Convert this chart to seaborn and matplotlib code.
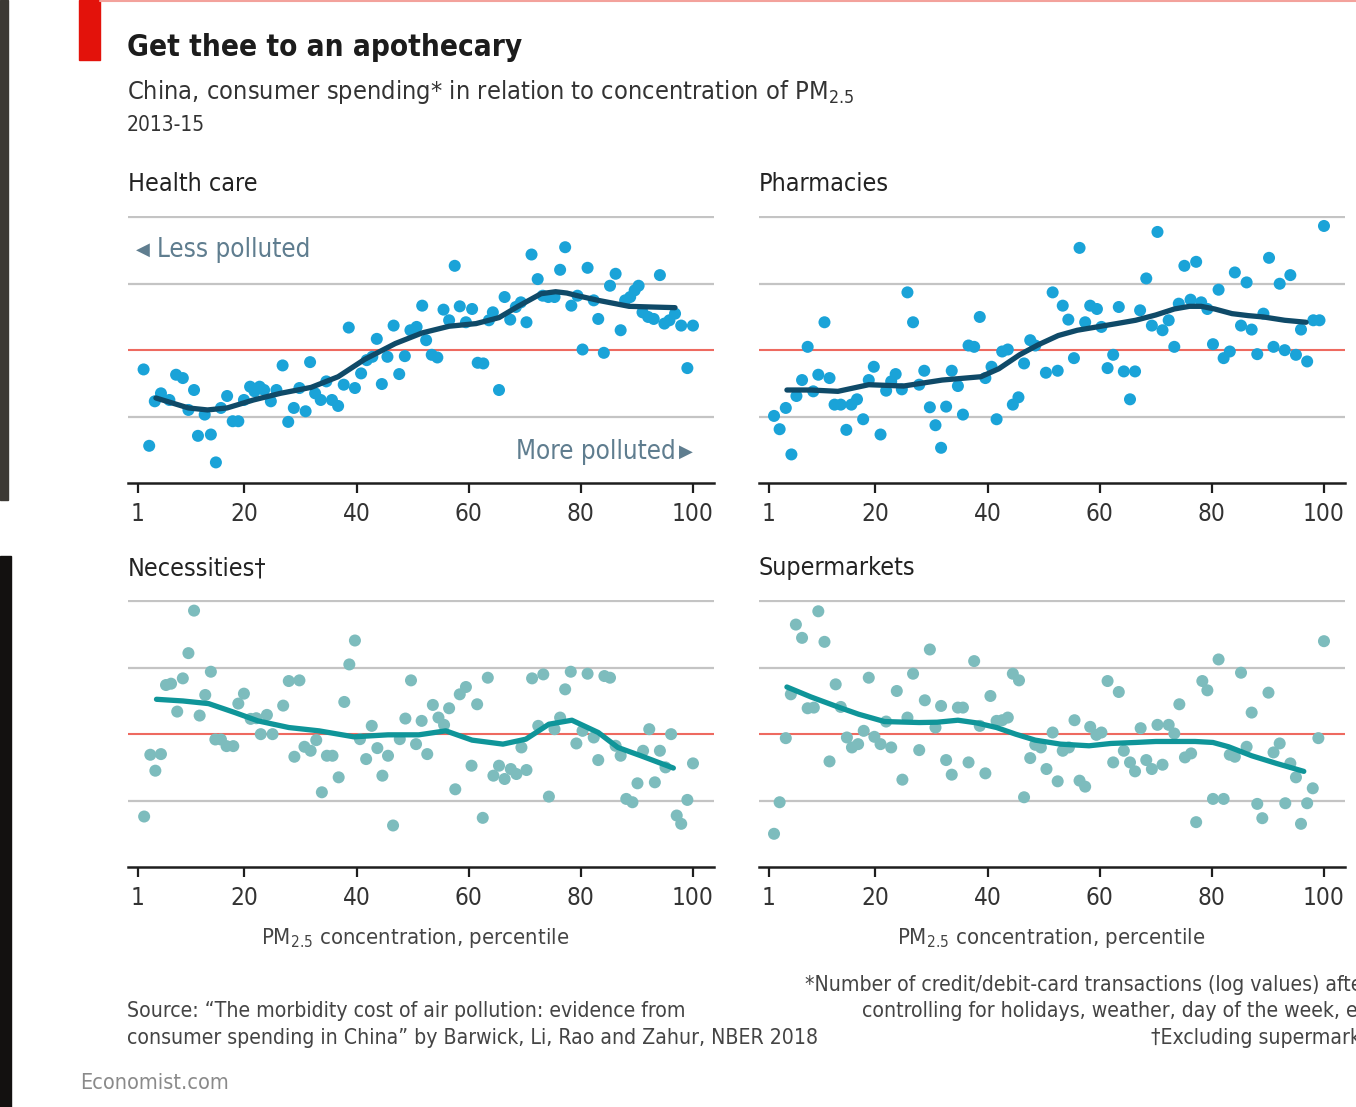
import numpy as np
import pandas as pd
import matplotlib
matplotlib.use("Agg")
import matplotlib.pyplot as plt
import seaborn as sns
from matplotlib.patches import Rectangle
from matplotlib.lines import Line2D

# Scatter values (percentile, relative spending)
hc_x = [2, 3, 4, 5.1, 6.6, 7.8, 9, 10, 11, 11.7, 12.9, 14, 14.9, 15.8, 16.9, 17.9, 18.9, 19.9, 21, 21.8,
        22.7, 23.5, 24.7, 25.7, 26.8, 27.8, 28.8, 29.8, 30.9, 31.7, 32.6, 33.6, 34.6, 35.6, 36.7, 37.7, 38.6,
        39.7, 40.8, 41.8, 42.8, 43.6, 44.5, 45.5, 46.6, 47.6, 48.6, 49.6, 50.7, 51.7, 52.4, 53.4, 54.4, 55.5,
        56.5, 57.5, 58.4, 59.5, 60.6, 61.6, 62.6, 63.6, 64.3, 65.4, 66.4, 67.4, 68.4, 69.3, 70.3, 71.2, 72.3,
        73.2, 74.2, 75.3, 76.3, 77.2, 78.3, 79.4, 80.3, 81.2, 82.3, 83.1, 84.1, 85.2, 86.2, 87.1, 87.9, 88.8,
        89.6, 90.3, 91, 92, 93, 94.1, 94.9, 95.8, 96.8, 97.9, 99, 100]
hc_y = [-0.29, -1.44, -0.77, -0.65, -0.75, -0.37, -0.42, -0.90, -0.60, -1.29, -0.97, -1.27, -1.69, -0.87,
        -0.69, -1.07, -1.07, -0.75, -0.55, -0.62, -0.55, -0.60, -0.77, -0.60, -0.23, -1.08, -0.87, -0.57,
        -0.92, -0.18, -0.65, -0.75, -0.47, -0.75, -0.84, -0.52, 0.34, -0.57, -0.35, -0.15, -0.10, 0.17,
        -0.51, -0.10, 0.37, -0.36, -0.09, 0.30, 0.35, 0.67, 0.15, -0.07, -0.11, 0.61, 0.45, 1.27, 0.66,
        0.42, 0.62, -0.19, -0.20, 0.45, 0.57, -0.60, 0.80, 0.46, 0.65, 0.72, 0.42, 1.44, 1.07, 0.82, 0.80,
        0.80, 1.21, 1.55, 0.67, 0.82, 0.01, 1.24, 0.75, 0.47, -0.04, 0.97, 1.15, 0.30, 0.75, 0.80, 0.90,
        0.97, 0.57, 0.50, 0.47, 1.13, 0.40, 0.45, 0.55, 0.37, -0.27, 0.37]
hc_fit_x = [4.2, 10, 13.4, 16.9, 21.6, 26.4, 31.9, 36.7, 41.4, 46.9, 51.7, 56.5, 61.3, 65.4, 68.8, 72.9,
            75.5, 77.5, 79.4, 83.1, 88.6, 92.5, 96.8]
hc_fit_y = [-0.72, -0.87, -0.90, -0.87, -0.75, -0.65, -0.56, -0.40, -0.14, 0.10, 0.26, 0.36, 0.40, 0.49,
            0.66, 0.85, 0.88, 0.86, 0.82, 0.75, 0.66, 0.65, 0.64]

ph_x = [1.9, 2.9, 4, 5, 5.9, 6.9, 7.9, 8.9, 9.8, 10.9, 11.8, 12.7, 13.8, 14.8, 15.7, 16.7, 17.8, 18.8, 19.7,
        20.9, 21.9, 22.8, 23.6, 24.7, 25.7, 26.7, 27.8, 28.7, 29.7, 30.7, 31.7, 32.6, 33.6, 34.7, 35.6, 36.6,
        37.6, 38.6, 39.6, 40.7, 41.6, 42.6, 43.6, 44.5, 45.5, 46.5, 47.6, 48.5, 50.4, 51.6, 52.5, 53.4, 54.4,
        55.4, 56.4, 57.4, 58.3, 59.5, 60.3, 61.4, 62.4, 63.4, 64.3, 65.4, 66.3, 67.2, 68.3, 69.3, 70.3, 71.2,
        72.3, 73.3, 74.1, 75.1, 76.2, 77.2, 78.1, 79.2, 80.2, 81.2, 82.1, 83.2, 84.1, 85.2, 86.2, 87.1, 88.1,
        89.2, 90.2, 91, 92.1, 93, 94, 95, 95.9, 97, 98.1, 99.2, 100]
ph_y = [-0.99, -1.19, -0.87, -1.57, -0.69, -0.45, 0.05, -0.62, -0.37, 0.42, -0.42, -0.82, -0.82, -1.20,
        -0.82, -0.74, -1.04, -0.45, -0.25, -1.27, -0.61, -0.47, -0.36, -0.59, 0.87, 0.42, -0.52, -0.31,
        -0.86, -1.13, -1.47, -0.85, -0.31, -0.54, -0.97, 0.07, 0.05, 0.50, -0.42, -0.25, -1.04, -0.02, 0.01,
        -0.82, -0.71, -0.20, 0.15, 0.07, -0.34, 0.87, -0.31, 0.67, 0.46, -0.12, 1.54, 0.42, 0.67, 0.62,
        0.35, -0.27, -0.07, 0.65, -0.32, -0.74, -0.32, 0.60, 1.08, 0.37, 1.78, 0.30, 0.45, 0.05, 0.70, 1.27,
        0.76, 1.33, 0.72, 0.62, 0.09, 0.91, -0.12, -0.02, 1.17, 0.37, 1.02, 0.31, -0.06, 0.55, 1.39, 0.05,
        1.00, 0.00, 1.13, -0.07, 0.31, -0.17, 0.45, 0.45, 1.87]
ph_fit_x = [4.2, 8.5, 13.3, 18.8, 25, 31.9, 38.8, 42, 45.7, 49, 52.6, 56, 59.5, 63, 66.4, 70, 73.3, 76,
            78.1, 80.5, 83.6, 86.5, 89.2, 93, 96.8]
ph_fit_y = [-0.60, -0.60, -0.62, -0.52, -0.54, -0.45, -0.40, -0.28, -0.07, 0.08, 0.22, 0.30, 0.35, 0.40,
            0.45, 0.53, 0.62, 0.66, 0.66, 0.62, 0.55, 0.52, 0.50, 0.45, 0.42]

ne_x = [2.1, 3.2, 4.1, 5.1, 6, 6.9, 8, 9, 10, 11, 12, 13, 14, 14.8, 15.8, 16.8, 18, 18.9, 19.9, 21.1, 22.1,
        22.9, 24, 25, 26.9, 27.9, 28.9, 29.8, 30.7, 31.8, 32.8, 33.8, 34.7, 35.7, 36.8, 37.8, 38.7, 39.7,
        40.6, 41.7, 42.7, 43.7, 44.6, 45.6, 46.5, 47.7, 48.7, 49.7, 50.6, 51.6, 52.6, 53.6, 54.6, 55.6, 56.5,
        57.6, 58.4, 59.5, 60.5, 61.5, 62.5, 63.4, 64.4, 65.4, 66.4, 67.5, 68.5, 69.4, 70.3, 71.3, 72.4, 73.3,
        74.3, 75.3, 76.3, 77.2, 78.2, 79.2, 80.3, 81.2, 82.3, 83.1, 84.2, 85.2, 86.2, 87.1, 88.1, 89.2, 90.1,
        91.1, 92.2, 93.2, 94.1, 95.1, 96.1, 97.1, 97.9, 99, 100]
ne_y = [-1.24, -0.31, -0.55, -0.30, 0.74, 0.76, 0.34, 0.84, 1.22, 1.86, 0.28, 0.59, 0.94, -0.08, -0.08,
        -0.18, -0.18, 0.46, 0.61, 0.23, 0.24, 0.00, 0.29, 0.00, 0.43, 0.80, -0.34, 0.81, -0.19, -0.25, -0.09,
        -0.875, -0.325, -0.325, -0.65, 0.485, 1.05, 1.41, -0.075, -0.375, 0.125, -0.21, -0.625, -0.325,
        -1.375, -0.075, 0.235, 0.81, -0.15, 0.20, -0.30, 0.44, 0.25, 0.14, 0.39, -0.83, 0.60, 0.71, -0.475,
        0.45, -1.26, 0.85, -0.625, -0.475, -0.675, -0.525, -0.60, -0.20, -0.54, 0.84, 0.125, 0.90, -0.94,
        0.075, 0.25, 0.675, 0.94, -0.14, 0.05, 0.91, -0.05, -0.39, 0.875, 0.85, -0.175, -0.325, -0.975,
        -1.025, -0.74, -0.25, 0.075, -0.725, -0.25, -0.50, 0.00, -1.225, -1.35, -0.99, -0.44]
ne_fit_x = [4.3, 9, 13.6, 18.3, 22.4, 27.9, 33.3, 39.5, 45.6, 51.1, 55.9, 60.6, 66.1, 70.2, 74.3, 78.4,
            83.1, 86.6, 90.7, 96.5]
ne_fit_y = [0.525, 0.50, 0.46, 0.325, 0.20, 0.10, 0.05, -0.04, -0.01, -0.01, 0.05, -0.09, -0.15, -0.075,
            0.15, 0.21, 0.025, -0.20, -0.325, -0.51]

su_x = [1.9, 2.9, 4, 4.9, 5.8, 6.9, 7.9, 9, 9.8, 10.9, 11.8, 12.9, 13.8, 14.9, 15.8, 16.9, 17.9, 18.8,
        19.8, 20.9, 21.9, 22.8, 23.8, 24.8, 25.7, 26.7, 27.8, 28.8, 29.7, 30.7, 31.7, 32.6, 33.6, 34.7, 35.6,
        36.6, 37.6, 38.6, 39.6, 40.5, 41.6, 42.6, 43.6, 44.5, 45.6, 46.5, 47.6, 48.5, 49.5, 50.5, 51.6, 52.5,
        53.4, 54.5, 55.5, 56.4, 57.4, 58.3, 59.4, 60.3, 61.4, 62.4, 63.4, 64.3, 65.4, 66.3, 67.3, 68.3, 69.3,
        70.3, 71.2, 72.3, 73.3, 74.2, 75.2, 76.3, 77.2, 78.3, 79.2, 80.2, 81.2, 82.1, 83.2, 84.1, 85.2, 86.2,
        87.1, 88.1, 89, 90.1, 91, 92.1, 93.1, 94, 95, 95.9, 97, 98, 99, 100]
su_y = [-1.50, -1.025, -0.06, 0.60, 1.65, 1.45, 0.39, 0.40, 1.85, 1.39, -0.41, 0.75, 0.41, -0.05, -0.20,
        -0.15, 0.05, 0.85, -0.04, -0.15, 0.19, -0.20, 0.65, -0.685, 0.25, 0.91, -0.24, 0.51, 1.275, 0.10,
        0.425, -0.39, -0.61, 0.40, 0.40, -0.425, 1.10, 0.125, -0.59, 0.575, 0.20, 0.21, 0.25, 0.91, 0.81,
        -0.95, -0.36, -0.16, -0.20, -0.525, 0.025, -0.71, -0.25, -0.20, 0.21, -0.70, -0.79, 0.11, -0.01,
        0.025, 0.80, -0.425, 0.635, -0.25, -0.425, -0.56, 0.09, -0.39, -0.525, 0.14, -0.46, 0.14, 0.01,
        0.45, -0.35, -0.29, -1.325, 0.80, 0.66, -0.975, 1.125, -0.975, -0.31, -0.34, 0.925, -0.19, 0.325,
        -1.05, -1.265, 0.625, -0.275, -0.14, -1.04, -0.44, -0.65, -1.35, -1.04, -0.815, -0.06, 1.40]
su_fit_x = [4.2, 8.5, 13.3, 17, 21.6, 27.8, 31, 34.7, 38, 41.6, 45, 48.5, 53, 58.1, 62, 66.4, 70, 73.3,
            77, 80.2, 83, 87.1, 91.5, 96.4]
su_fit_y = [0.71, 0.56, 0.41, 0.30, 0.19, 0.175, 0.18, 0.21, 0.17, 0.10, 0.00, -0.09, -0.15, -0.175, -0.14,
            -0.125, -0.11, -0.11, -0.11, -0.125, -0.19, -0.325, -0.44, -0.56]

panels = [
    ("Health care", hc_x, hc_y, hc_fit_x, hc_fit_y, "#1aa3d8", "#0f4a68", 128, 216),
    ("Pharmacies", ph_x, ph_y, ph_fit_x, ph_fit_y, "#1aa3d8", "#0f4a68", 759, 216),
    ("Necessities\u2020", ne_x, ne_y, ne_fit_x, ne_fit_y, "#7dbcbd", "#0f9599", 128, 600),
    ("Supermarkets", su_x, su_y, su_fit_x, su_fit_y, "#7dbcbd", "#0f9599", 759, 600),
]
xticks = [1, 20, 40, 60, 80, 100]

sns.set_style("white")
plt.rcParams["font.family"] = ["DejaVu Sans"]
plt.rcParams["font.stretch"] = "condensed"

W, H = 1356, 1107
fig = plt.figure(figsize=(W / 100, H / 100), dpi=100)
fig.patch.set_facecolor("white")


def fx(x):
    return x / W


def fy(y):
    return 1 - y / H


# frame decorations
fig.add_artist(Rectangle((fx(79), fy(60)), fx(21), 60 / H, color="#e3120b", transform=fig.transFigure))
fig.add_artist(Line2D([fx(100), 1], [fy(1), fy(1)], color="#f3a29c", lw=1.5, transform=fig.transFigure))
fig.add_artist(Rectangle((0, fy(500)), fx(8), 500 / H, color="#3c3934", transform=fig.transFigure))
fig.add_artist(Rectangle((0, 0), fx(11), fy(556), color="#131110", transform=fig.transFigure))

fig.text(fx(127), fy(47), "Get thee to an apothecary", fontsize=21.3, fontweight="bold",
         color="#1c1c1c", va="center")
fig.text(fx(127), fy(92), r"China, consumer spending* in relation to concentration of PM$_{\mathregular{2.5}}$",
         fontsize=18.2, color="#333333", va="center")
fig.text(fx(127), fy(125), "2013-15", fontsize=15, color="#333333", va="center")

for title, xs, ys, fit_x, fit_y, dot_col, line_col, left, top in panels:
    ax = fig.add_axes([fx(left), fy(top + 267), 586 / W, 267 / H])
    df = pd.DataFrame({"pct": xs, "val": ys})
    fit = pd.DataFrame({"pct": fit_x, "val": fit_y})
    for g in [2, 1, -1]:
        ax.axhline(g, color="#c4c4c4", lw=1.6, zorder=0)
    ax.axhline(0, color="#ee6a60", lw=1.5, zorder=0)
    sns.scatterplot(data=df, x="pct", y="val", color=dot_col, s=75, edgecolor="none", ax=ax, zorder=2)
    sns.lineplot(data=fit, x="pct", y="val", color=line_col, lw=3.8, sort=False, estimator=None,
                 ax=ax, zorder=3, solid_capstyle="round", solid_joinstyle="round")
    ax.set_xlim(-0.78, 103.75)
    ax.set_ylim(-2, 2.02)
    ax.set_xticks(xticks)
    ax.set_xticklabels([str(t) for t in xticks])
    ax.set_yticks([])
    ax.set_xlabel("")
    ax.set_ylabel("")
    for s in ["top", "left", "right"]:
        ax.spines[s].set_visible(False)
    ax.spines["bottom"].set_color("#1e1e1e")
    ax.spines["bottom"].set_linewidth(1.8)
    ax.tick_params(axis="x", direction="out", length=7, width=1.6, color="#1e1e1e",
                   labelsize=17.5, labelcolor="#333333", pad=7, bottom=True)
    ax.patch.set_alpha(0)
    fig.text(fx(left), fy(top - 32), title, fontsize=18, color="#222222", va="center")

# direction labels
fig.text(fx(136), fy(250), "\u25c0", fontsize=13, color="#5f7d8f", va="center",
         family=["DejaVu Sans"], stretch="normal")
fig.text(fx(157), fy(250), "Less polluted", fontsize=18.6, color="#5f7d8f", va="center")
fig.text(fx(676), fy(452), "More polluted", fontsize=18.6, color="#5f7d8f", va="center", ha="right")
fig.text(fx(679), fy(452), "\u25b6", fontsize=13, color="#5f7d8f", va="center",
         family=["DejaVu Sans"], stretch="normal")

xlabel = r"PM$_{\mathregular{2.5}}$ concentration, percentile"
fig.text(fx(415), fy(938), xlabel, fontsize=15.8, color="#444444", va="center", ha="center")
fig.text(fx(1051), fy(938), xlabel, fontsize=15.8, color="#444444", va="center", ha="center")

fig.text(fx(127), fy(1011), "Source: \u201cThe morbidity cost of air pollution: evidence from",
         fontsize=15.2, color="#444444", va="center")
fig.text(fx(127), fy(1038), "consumer spending in China\u201d by Barwick, Li, Rao and Zahur, NBER 2018",
         fontsize=15.2, color="#444444", va="center")
fig.text(fx(805), fy(985), "*Number of credit/debit-card transactions (log values) after",
         fontsize=15.2, color="#444444", va="center")
fig.text(fx(862), fy(1011), "controlling for holidays, weather, day of the week, etc",
         fontsize=15.2, color="#444444", va="center")
fig.text(fx(1151), fy(1038), "\u2020Excluding supermarkets", fontsize=15.2, color="#444444", va="center")
fig.text(fx(80), fy(1083), "Economist.com", fontsize=15.5, color="#8a8a8a", va="center")

fig.savefig("out.png", dpi=100, facecolor="white")
